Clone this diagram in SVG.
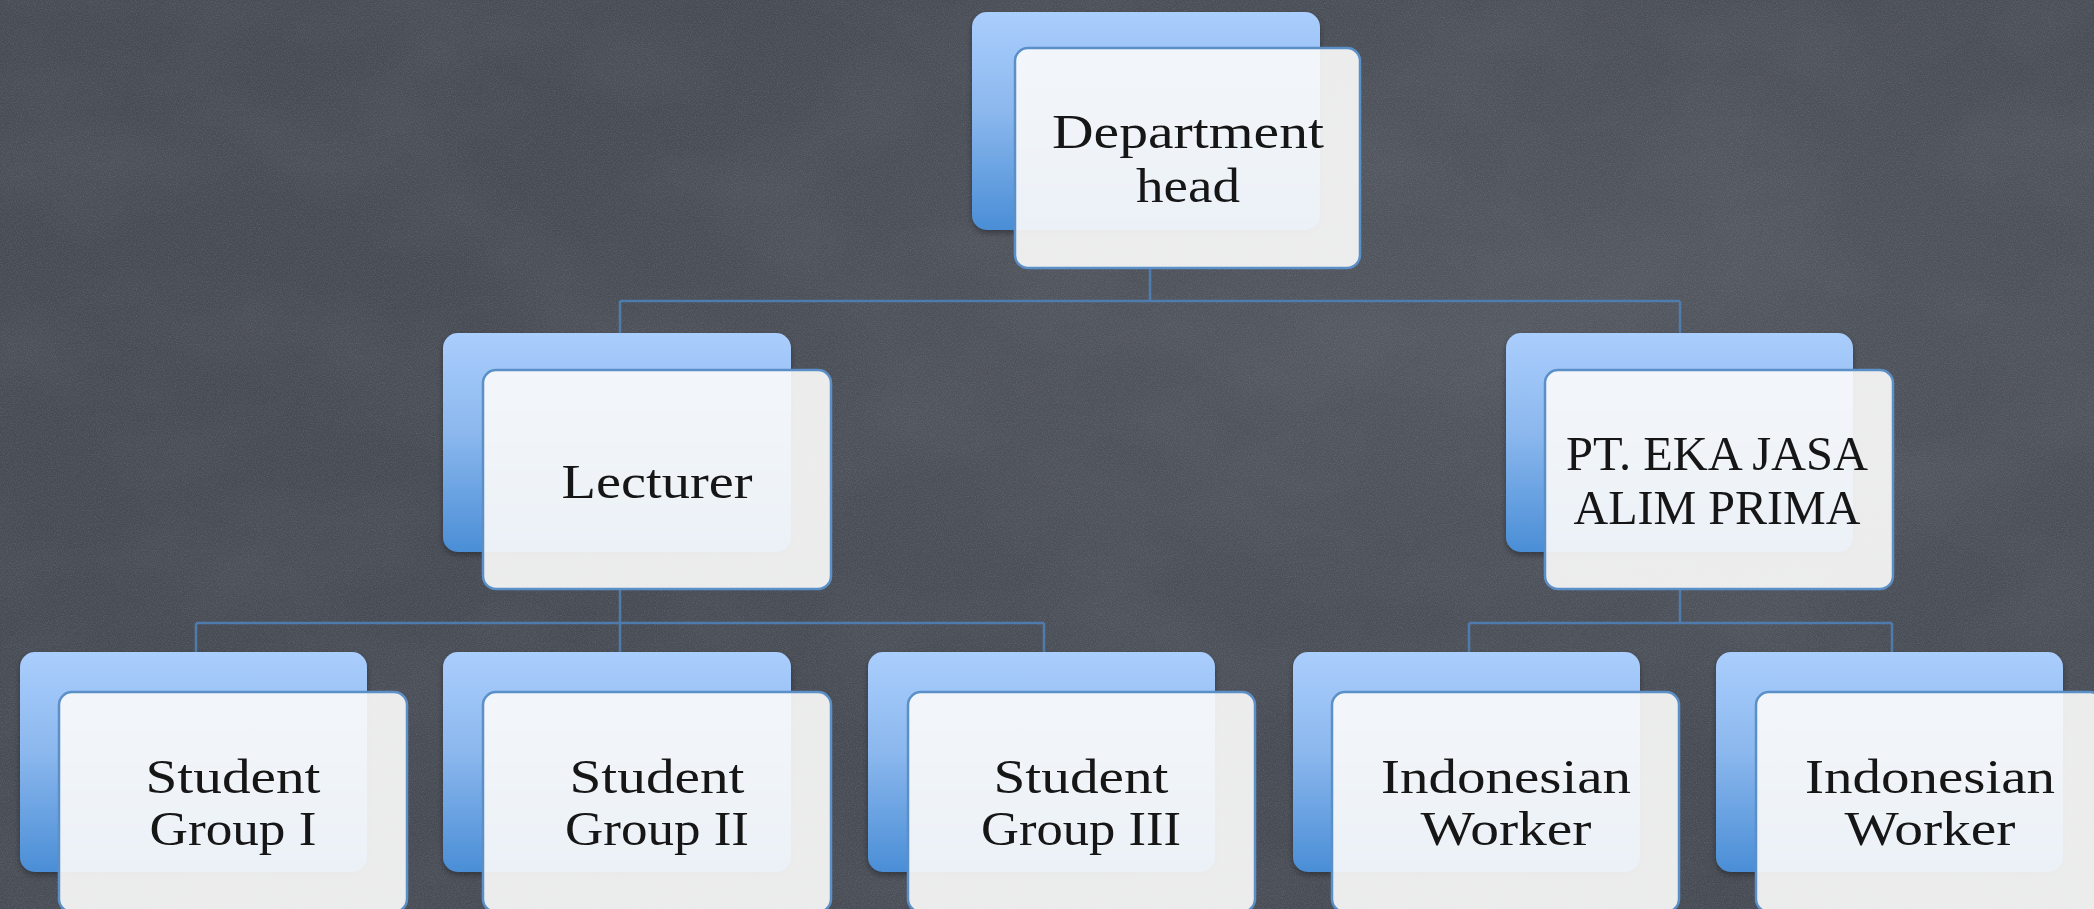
<svg xmlns="http://www.w3.org/2000/svg" width="2094" height="909" viewBox="0 0 2094 909">
  <defs>
    <linearGradient id="backGrad" x1="0" y1="0" x2="0" y2="1">
      <stop offset="0" stop-color="#aacefd"/>
      <stop offset="0.45" stop-color="#8cb8ee"/>
      <stop offset="1" stop-color="#4a8ed6"/>
    </linearGradient>
    <radialGradient id="smudge1" cx="0.72" cy="0.35" r="0.5">
      <stop offset="0" stop-color="#575b64" stop-opacity="0.7"/>
      <stop offset="1" stop-color="#575b64" stop-opacity="0"/>
    </radialGradient>
    <filter id="noise" x="0" y="0" width="100%" height="100%" filterUnits="userSpaceOnUse">
      <feTurbulence type="fractalNoise" baseFrequency="0.85" numOctaves="2" seed="7" result="n"/>
      <feColorMatrix in="n" type="matrix" values="0 0 0 0 0.85  0 0 0 0 0.87  0 0 0 0 0.92  0.5 0 0 0 -0.18"/>
    </filter>
    <filter id="chalk" x="0" y="0" width="100%" height="100%" filterUnits="userSpaceOnUse">
      <feTurbulence type="fractalNoise" baseFrequency="0.006 0.01" numOctaves="3" seed="2" result="n"/>
      <feColorMatrix in="n" type="matrix" values="0 0 0 0 0.6  0 0 0 0 0.62  0 0 0 0 0.68  0.6 0 0 0 -0.22"/>
    </filter>
    <filter id="shadow" x="-10%" y="-10%" width="120%" height="130%">
      <feDropShadow dx="0" dy="3" stdDeviation="3" flood-color="#000" flood-opacity="0.35"/>
    </filter>
  </defs>
  <style>
    .back { fill: url(#backGrad); filter: url(#shadow); }
    .front { fill: #fafafa; fill-opacity: 0.92; stroke: #5b8fc8; stroke-width: 2.5; }
    .lbl { font-family: "Liberation Serif", "DejaVu Serif", serif; font-size: 49px; fill: #161616; text-anchor: middle; }
    .conn { fill: none; stroke: #4f7fb6; stroke-width: 2.5; stroke-opacity: 0.9; }
  </style>

  <!-- background -->
  <rect x="0" y="0" width="2094" height="909" fill="#464a53"/>
  <rect x="0" y="0" width="2094" height="909" fill="url(#smudge1)"/>
  <rect x="0" y="0" width="2094" height="909" filter="url(#chalk)" opacity="0.15"/>
  <rect x="0" y="0" width="2094" height="909" filter="url(#noise)" opacity="0.45"/>

  <g id="connectors">
    <path class="conn" d="M1150 268 V301 M620 301 H1680 M620 301 V333 M1680 301 V333"/>
    <path class="conn" d="M620 589 V652 M196 623 H1044 M196 623 V652 M1044 623 V652"/>
    <path class="conn" d="M1680 589 V623 M1469 623 H1892 M1469 623 V652 M1892 623 V652"/>
  </g>

  <g id="node-department-head">
    <rect class="back" x="972" y="12" width="348" height="218" rx="15"/>
    <rect class="front" x="1015" y="48" width="345" height="220" rx="13"/>
    <text class="lbl" x="1188" y="148" textLength="272" lengthAdjust="spacingAndGlyphs">Department</text>
    <text class="lbl" x="1188" y="202" textLength="104" lengthAdjust="spacingAndGlyphs">head</text>
  </g>

  <g id="node-lecturer">
    <rect class="back" x="443" y="333" width="348" height="219" rx="15"/>
    <rect class="front" x="483" y="370" width="348" height="219" rx="13"/>
    <text class="lbl" x="657" y="498" textLength="191" lengthAdjust="spacingAndGlyphs">Lecturer</text>
  </g>

  <g id="node-pt-eka-jasa">
    <rect class="back" x="1506" y="333" width="347" height="219" rx="15"/>
    <rect class="front" x="1545" y="370" width="348" height="219" rx="13"/>
    <text class="lbl" x="1717" y="470" textLength="302" lengthAdjust="spacingAndGlyphs">PT. EKA JASA</text>
    <text class="lbl" x="1717" y="524" textLength="287" lengthAdjust="spacingAndGlyphs">ALIM PRIMA</text>
  </g>

  <g id="node-student-group-1">
    <rect class="back" x="20" y="652" width="347" height="220" rx="15"/>
    <rect class="front" x="59" y="692" width="348" height="220" rx="13"/>
    <text class="lbl" x="233" y="793" textLength="175" lengthAdjust="spacingAndGlyphs">Student</text>
    <text class="lbl" x="233" y="845" textLength="167" lengthAdjust="spacingAndGlyphs">Group I</text>
  </g>

  <g id="node-student-group-2">
    <rect class="back" x="443" y="652" width="348" height="220" rx="15"/>
    <rect class="front" x="483" y="692" width="348" height="220" rx="13"/>
    <text class="lbl" x="657" y="793" textLength="175" lengthAdjust="spacingAndGlyphs">Student</text>
    <text class="lbl" x="657" y="845" textLength="184" lengthAdjust="spacingAndGlyphs">Group II</text>
  </g>

  <g id="node-student-group-3">
    <rect class="back" x="868" y="652" width="347" height="220" rx="15"/>
    <rect class="front" x="908" y="692" width="347" height="220" rx="13"/>
    <text class="lbl" x="1081" y="793" textLength="175" lengthAdjust="spacingAndGlyphs">Student</text>
    <text class="lbl" x="1081" y="845" textLength="200" lengthAdjust="spacingAndGlyphs">Group III</text>
  </g>

  <g id="node-indonesian-worker-1">
    <rect class="back" x="1293" y="652" width="347" height="220" rx="15"/>
    <rect class="front" x="1332" y="692" width="347" height="220" rx="13"/>
    <text class="lbl" x="1506" y="793" textLength="250" lengthAdjust="spacingAndGlyphs">Indonesian</text>
    <text class="lbl" x="1506" y="845" textLength="171" lengthAdjust="spacingAndGlyphs">Worker</text>
  </g>

  <g id="node-indonesian-worker-2">
    <rect class="back" x="1716" y="652" width="347" height="220" rx="15"/>
    <rect class="front" x="1756" y="692" width="347" height="220" rx="13"/>
    <text class="lbl" x="1930" y="793" textLength="250" lengthAdjust="spacingAndGlyphs">Indonesian</text>
    <text class="lbl" x="1930" y="845" textLength="171" lengthAdjust="spacingAndGlyphs">Worker</text>
  </g>
</svg>
